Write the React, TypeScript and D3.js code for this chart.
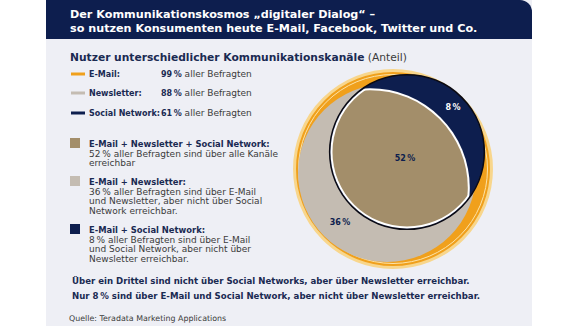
import React from "react";
import * as d3 from "d3";

// ---- data ----
const titleLines = [
  "Der Kommunikationskosmos „digitaler Dialog“ –",
  "so nutzen Konsumenten heute E-Mail, Facebook, Twitter und Co.",
];
const chartTitle = "Nutzer unterschiedlicher Kommunikationskanäle";
const chartSubtitle = "(Anteil)";
const setNames = ["E-Mail", "Newsletter", "Social Network"];
const setShares = [99, 88, 61];
const comboNames = [
  "E-Mail + Newsletter + Social Network:",
  "E-Mail + Newsletter:",
  "E-Mail + Social Network:",
];
const comboShares = [52, 36, 8];
const comboTexts = [
  [" aller Befragten sind über alle Kanäle", "erreichbar"],
  [" aller Befragten sind über E-Mail", "und Newsletter, aber nicht über Social", "Network erreichbar."],
  [" aller Befragten sind über E-Mail", "und Social Network, aber nicht über", "Newsletter erreichbar."],
];
const notes = [
  "Über ein Drittel sind nicht über Social Networks, aber über Newsletter erreichbar.",
  "Nur 8\u2009% sind über E-Mail und Social Network, aber nicht über Newsletter erreichbar.",
];
const source = "Quelle: Teradata Marketing Applications";

// ---- styles / layout ----
const W = 580, H = 326;
const NAVY = "#0d1e4e";
const TEXT_NAVY = "#1a2a52";
const BODY = "#3b3b3b";
const ORANGE = "#f0a01c";
const YELLOW = "#f8d68c";
const GRAY = "#c4bcb2";
const TAN = "#a38e6a";
const setColors = [ORANGE, GRAY, NAVY];
const comboColors = [TAN, GRAY, NAVY];
const FONT = "'DejaVu Sans', Verdana, sans-serif";

const pct = (v: number) => `${v}\u2009%`;

export default function App() {
  // radius scale: area ~ share; the newsletter circle of the original is drawn a little smaller
  const r = d3.scaleSqrt().domain([0, 99]).range([0, 98.5]);
  const shrink = [1, 0.958, 1];
  const cx0 = 393, cy0 = 169;
  const offsets = [
    [0, 0],
    [-6, 4],
    [14, -17],
  ];
  const circ = setShares.map((v, i) => ({
    cx: cx0 + offsets[i][0],
    cy: cy0 + offsets[i][1],
    r: r(v) * shrink[i],
  }));
  const [E, N, S] = circ;
  // the original draws the newsletter edge inside the social circle as a flatter arc
  const NT = { cx: cx0 - 23, cy: cy0 + 19, r: r(setShares[1]) * 1.075 };
  const labelPos = [
    { x: cx0 + 12, y: cy0 - 11, fill: NAVY },
    { x: cx0 - 53, y: cy0 + 53, fill: NAVY },
    { x: cx0 + 60, y: cy0 - 62, fill: "#ffffff" },
  ];

  const legendY = [77, 96, 116];
  const comboY = [147, 185, 233];
  const lineH = 9.6;

  return (
    <svg
      width={W}
      height={H}
      viewBox={`0 0 ${W} ${H}`}
      style={{ position: "absolute", left: 0, top: 0, background: "#ffffff" }}
      fontFamily={FONT}
    >
      <defs>
        <clipPath id="clipS">
          <circle cx={S.cx} cy={S.cy} r={S.r - 0.8} />
        </clipPath>
        <clipPath id="clipS2">
          <circle cx={S.cx} cy={S.cy} r={S.r - 2.8} />
        </clipPath>
      </defs>
      {/* panel */}
      <rect x={46} y={0} width={486} height={H} fill="#eeeff5" />
      <path d={`M46,0 H520 A12,12 0 0 1 532,12 V39 H46 Z`} fill={NAVY} />
      {titleLines.map((t, i) => (
        <text key={i} x={70} y={18 + i * 14} fill="#ffffff" fontSize={11.2} fontWeight="bold">
          {t}
        </text>
      ))}
      <text x={70} y={61} fontSize={10.7} fill={TEXT_NAVY}>
        <tspan fontWeight="bold">{chartTitle}</tspan>
        <tspan fill={BODY}> {chartSubtitle}</tspan>
      </text>

      {/* set legend */}
      {setNames.map((n, i) => (
        <g key={n}>
          <line x1={71} x2={85} y1={legendY[i] - 3} y2={legendY[i] - 3} stroke={setColors[i]} strokeWidth={3} />
          <text x={89} y={legendY[i]} fontSize={8} fontWeight="bold" fill={TEXT_NAVY}>
            {n}:
          </text>
          <text x={161} y={legendY[i]} fontSize={9} fill={BODY}>
            <tspan fontWeight="bold" fontSize={8} fill={TEXT_NAVY}>{pct(setShares[i])}</tspan>
            <tspan> aller Befragten</tspan>
          </text>
        </g>
      ))}

      {/* combo legend */}
      {comboNames.map((n, i) => (
        <g key={n}>
          <rect x={70} y={comboY[i] - 9} width={10} height={10} fill={comboColors[i]} />
          <text x={89} y={comboY[i]} fontSize={8.4} fontWeight="bold" fill={TEXT_NAVY}>
            {n}
          </text>
          {comboTexts[i].map((t, j) => (
            <text key={j} x={89} y={comboY[i] + (j + 1) * lineH} fontSize={9} fill={BODY}>
              {j === 0 ? pct(comboShares[i]) + t : t}
            </text>
          ))}
        </g>
      ))}

      {/* venn */}
      <circle cx={E.cx} cy={E.cy} r={E.r} fill={ORANGE} stroke={YELLOW} strokeWidth={3} />
      <circle cx={E.cx} cy={E.cy} r={E.r - 4} fill="none" stroke="#fce3a8" strokeWidth={1} />
      <circle cx={N.cx} cy={N.cy} r={N.r} fill={GRAY} />
      <circle cx={S.cx} cy={S.cy} r={S.r} fill={NAVY} stroke="#0a0a14" strokeWidth={1.6} />
      <g clipPath="url(#clipS)">
        <circle cx={NT.cx} cy={NT.cy} r={NT.r} fill="#ffffff" />
      </g>
      <g clipPath="url(#clipS2)">
        <circle cx={NT.cx} cy={NT.cy} r={NT.r - 2} fill={TAN} />
      </g>
      {comboShares.map((v, i) => (
        <text
          key={i}
          x={labelPos[i].x}
          y={labelPos[i].y}
          fontSize={8}
          fontWeight="bold"
          fill={labelPos[i].fill}
          textAnchor="middle"
          dominantBaseline="middle"
        >
          {pct(v)}
        </text>
      ))}

      {/* notes */}
      {notes.map((t, i) => (
        <text key={i} x={72} y={284 + i * 15} fontSize={8.6} fontWeight="bold" fill={TEXT_NAVY}>
          {t}
        </text>
      ))}
      <text x={69} y={321} fontSize={7.9} fill={BODY}>
        {source}
      </text>
    </svg>
  );
}
